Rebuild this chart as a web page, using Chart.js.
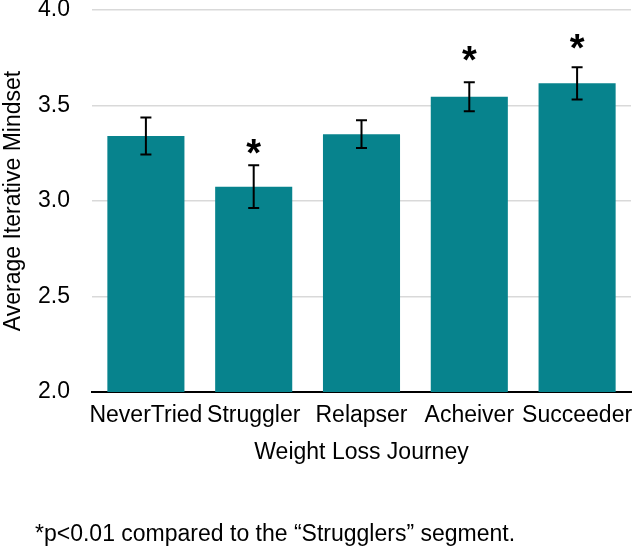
<!DOCTYPE html>
<html>
<head>
<meta charset="utf-8">
<script src="https://cdn.jsdelivr.net/npm/chart.js@4/dist/chart.umd.min.js"></script>
<style>
  html, body { margin: 0; padding: 0; background: #fff; }
  #wrap { position: relative; width: 633px; height: 548px; }
  #note {
    position: absolute; left: 35px; top: 522px;
    font: 23px/23px "Liberation Sans", Arial, Helvetica, sans-serif;
    color: #000; white-space: nowrap;
  }
</style>
</head>
<body>
<div id="wrap">
  <canvas id="chart" width="633" height="548"></canvas>
  <div id="note">*p&lt;0.01 compared to the “Strugglers” segment.</div>
</div>
<script>
const categories = ['NeverTried', 'Struggler', 'Relapser', 'Acheiver', 'Succeeder'];
const means = [3.34, 3.075, 3.35, 3.546, 3.616];
const errors = [0.097, 0.112, 0.073, 0.076, 0.084];
// where the significance asterisk sits (in mindset units), null = not significant
const starAt = [null, 3.284, null, 3.773, 3.834];

const FONT = '"Liberation Sans", Arial, Helvetica, sans-serif';
Chart.defaults.font.family = FONT;
Chart.defaults.color = '#000';

const errorBars = {
    id: 'errorBars',
    afterDatasetsDraw(chart) {
        const ctx = chart.ctx;
        const y = chart.scales.y;
        const meta = chart.getDatasetMeta(0);
        ctx.save();
        ctx.strokeStyle = '#000';
        ctx.lineWidth = 2;
        meta.data.forEach((bar, i) => {
            const hi = y.getPixelForValue(means[i] + errors[i]);
            const lo = y.getPixelForValue(means[i] - errors[i]);
            ctx.beginPath();
            ctx.moveTo(bar.x, hi); ctx.lineTo(bar.x, lo);
            ctx.moveTo(bar.x - 5.5, hi); ctx.lineTo(bar.x + 5.5, hi);
            ctx.moveTo(bar.x - 5.5, lo); ctx.lineTo(bar.x + 5.5, lo);
            ctx.stroke();
        });
        ctx.font = 'bold 38px ' + FONT;
        ctx.fillStyle = '#000';
        ctx.textAlign = 'center';
        ctx.textBaseline = 'alphabetic';
        const m = ctx.measureText('*');
        meta.data.forEach((bar, i) => {
            if (starAt[i] === null) return;
            const yc = y.getPixelForValue(starAt[i]);
            ctx.fillText('*', bar.x, yc + (m.actualBoundingBoxAscent - m.actualBoundingBoxDescent) / 2);
        });
        ctx.restore();
    }
};

new Chart(document.getElementById('chart'), {
    type: 'bar',
    data: {
        labels: categories,
        datasets: [{
            data: means,
            backgroundColor: '#07838D',
            borderWidth: 0,
            categoryPercentage: 1,
            barPercentage: 0.715
        }]
    },
    options: {
        responsive: false,
        animation: false,
        layout: { padding: { left: 0, right: 2, top: 0, bottom: 78 } },
        plugins: { legend: { display: false }, tooltip: { enabled: false } },
        scales: {
            x: {
                grid: { display: false, drawTicks: false },
                border: { display: true, color: '#000', width: 2 },
                ticks: { font: { size: 23 }, padding: 10, maxRotation: 0, autoSkip: false },
                title: {
                    display: true, text: 'Weight Loss Journey',
                    font: { size: 23 }, padding: { top: 12, bottom: 4 }
                },
                afterFit(s) { s.paddingLeft = 0; s.paddingRight = 0; s.height = 78; }
            },
            y: {
                min: 2, max: 4,
                grid: { color: '#d9d9d9', lineWidth: 1.5, drawTicks: false },
                border: { display: false },
                ticks: { stepSize: 0.5, font: { size: 23 }, padding: 22,
                    callback: v => v.toFixed(1) },
                title: {
                    display: true, text: 'Average Iterative Mindset',
                    font: { size: 23 }, padding: { top: 0, bottom: 13 }
                },
                afterFit(s) { s.paddingTop = 10; s.paddingBottom = 0; s.width = 92; }
            }
        }
    },
    plugins: [errorBars]
});
</script>
</body>
</html>
